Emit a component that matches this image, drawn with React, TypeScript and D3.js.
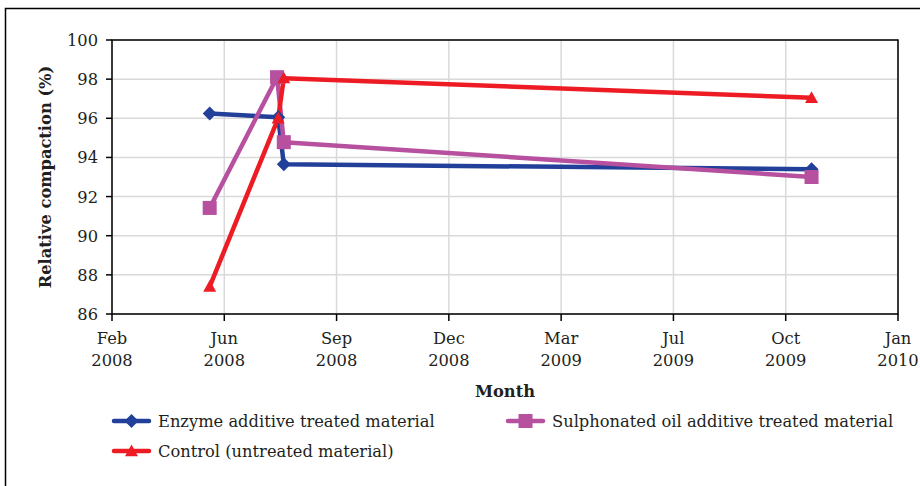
import React from "react";
import * as d3 from "d3";

const enzymeDates = ["2008-05-22", "2008-07-22", "2008-07-27", "2009-11-09"];
const enzymeValues = [96.25, 96.05, 93.65, 93.4];
const sulphDates = ["2008-05-22", "2008-07-21", "2008-07-27", "2009-11-09"];
const sulphValues = [91.42, 98.1, 94.78, 93.0];
const controlDates = ["2008-05-22", "2008-07-22", "2008-07-27", "2009-11-09"];
const controlValues = [87.4, 96.0, 98.05, 97.05];

const xMin = "2008-02-25";
const xStepDays = 100;
const xTickCount = 8;
const yTicks = [86, 88, 90, 92, 94, 96, 98, 100];

const seriesNames = [
  "Enzyme additive treated material",
  "Sulphonated oil additive treated material",
  "Control (untreated material)",
];

const parse = d3.utcParse("%Y-%m-%d");

export default function App() {
  const left = 112, right = 898, top = 40, bottom = 314;
  const t0 = parse(xMin) as Date;
  const xTicks = d3.range(xTickCount).map((i) => d3.utcDay.offset(t0, i * xStepDays));
  const x = d3.scaleUtc().domain([xTicks[0], xTicks[xTicks.length - 1]]).range([left, right]);
  const y = d3.scaleLinear().domain([86, 100]).range([bottom, top]);
  const fmtM = d3.utcFormat("%b");
  const fmtY = d3.utcFormat("%Y");

  const mk = (dates: string[], vals: number[]) =>
    dates.map((d, i) => ({ x: x(parse(d) as Date), y: y(vals[i]) }));
  const enzyme = mk(enzymeDates, enzymeValues);
  const sulph = mk(sulphDates, sulphValues);
  const control = mk(controlDates, controlValues);

  const line = d3.line<{ x: number; y: number }>().x((d) => d.x).y((d) => d.y);

  const blue = "#22409a";
  const pink = "#b6509f";
  const red = "#ed1c24";
  const font = "'DejaVu Serif', serif";
  const fs = 16.3;
  const tc = "#231f20";

  const diamond = (cx: number, cy: number, r: number, c: string, k: any) => (
    <path key={k} d={`M${cx},${cy - r}L${cx + r},${cy}L${cx},${cy + r}L${cx - r},${cy}Z`} fill={c} />
  );
  const square = (cx: number, cy: number, r: number, c: string, k: any) => (
    <rect key={k} x={cx - r} y={cy - r} width={2 * r} height={2 * r} fill={c} />
  );
  const triangle = (cx: number, cy: number, r: number, c: string, k: any) => (
    <path key={k} d={`M${cx},${cy - r}L${cx + r},${cy + r * 0.8}L${cx - r},${cy + r * 0.8}Z`} fill={c} />
  );

  return (
    <svg width={920} height={486} style={{ position: "absolute", left: 0, top: 0 }} fontFamily={font}>
      <rect x={0} y={0} width={920} height={486} fill="#fff" />
      <rect x={5.5} y={8.5} width={940} height={500} fill="none" stroke="#000" strokeWidth={1.5} />
      {/* grid */}
      {yTicks.map((t) => (
        <line key={"gy" + t} x1={left} x2={right} y1={y(t)} y2={y(t)} stroke="#d9d9d9" strokeWidth={1.5} />
      ))}
      {xTicks.map((t, i) => (
        <line key={"gx" + i} x1={x(t)} x2={x(t)} y1={top} y2={bottom} stroke="#d9d9d9" strokeWidth={1.5} />
      ))}
      <rect x={left} y={top} width={right - left} height={bottom - top} fill="none" stroke="#000" strokeWidth={1.5} />
      {/* y ticks */}
      {yTicks.map((t) => (
        <g key={"ty" + t}>
          <line x1={left - 6} x2={left} y1={y(t)} y2={y(t)} stroke="#000" strokeWidth={1.5} />
          <text x={left - 14} y={y(t) + 6} textAnchor="end" fontSize={fs} fill={tc}>{t}</text>
        </g>
      ))}
      {xTicks.map((t, i) => (
        <g key={"tx" + i}>
          <line x1={x(t)} x2={x(t)} y1={bottom} y2={bottom + 7} stroke="#000" strokeWidth={1.5} />
          <text x={x(t)} y={344} textAnchor="middle" fontSize={fs} fill={tc}>{fmtM(t)}</text>
          <text x={x(t)} y={366} textAnchor="middle" fontSize={fs} fill={tc}>{fmtY(t)}</text>
        </g>
      ))}
      <text x={505} y={397} textAnchor="middle" fontSize={fs} fontWeight="bold" fill={tc}>Month</text>
      <text transform={`translate(51,${(top + bottom) / 2}) rotate(-90)`} textAnchor="middle" fontSize={fs} fontWeight="bold" fill={tc}>
        Relative compaction (%)
      </text>
      {/* series */}
      <path d={line(enzyme) || ""} fill="none" stroke={blue} strokeWidth={4.5} strokeLinejoin="round" />
      <path d={line(sulph) || ""} fill="none" stroke={pink} strokeWidth={4.5} strokeLinejoin="round" />
      <path d={line(control) || ""} fill="none" stroke={red} strokeWidth={4.5} strokeLinejoin="round" />
      {enzyme.map((p, i) => diamond(p.x, p.y, 7, blue, "e" + i))}
      {sulph.map((p, i) => square(p.x, p.y, 7, pink, "s" + i))}
      {control.map((p, i) => triangle(p.x, p.y, 6.5, red, "c" + i))}
      {/* legend */}
      <g>
        <line x1={114} x2={149} y1={421} y2={421} stroke={blue} strokeWidth={4.5} strokeLinecap="round" />
        {diamond(131.5, 421, 7, blue, "ld")}
        <text x={158} y={427} fontSize={fs} fill={tc}>{seriesNames[0]}</text>
        <line x1={508} x2={543} y1={421} y2={421} stroke={pink} strokeWidth={4.5} strokeLinecap="round" />
        {square(525.5, 421, 7, pink, "ls")}
        <text x={552} y={427} fontSize={fs} fill={tc}>{seriesNames[1]}</text>
        <line x1={114} x2={149} y1={451} y2={451} stroke={red} strokeWidth={4.5} strokeLinecap="round" />
        {triangle(131.5, 451, 6.5, red, "lc")}
        <text x={158} y={457} fontSize={fs} fill={tc}>{seriesNames[2]}</text>
      </g>
    </svg>
  );
}
